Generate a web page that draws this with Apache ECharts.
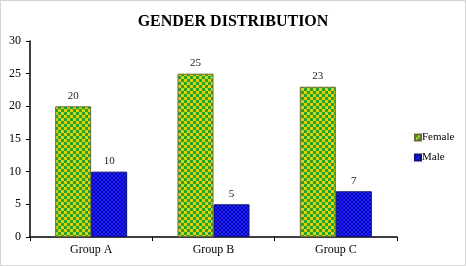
<!DOCTYPE html>
<html>
<head>
<meta charset="utf-8">
<script src="https://cdn.jsdelivr.net/npm/echarts@6/dist/echarts.min.js"></script>
<style>
html,body{margin:0;padding:0;background:#fff;}
#main{width:464px;height:264px;border:1px solid #d4d4d4;}
</style>
</head>
<body>
<div id="main"></div>
<script>
var categories = ['Group A', 'Group B', 'Group C'];
var femaleValues = [20, 25, 23];
var maleValues = [10, 5, 7];
var yTicks = [0, 5, 10, 15, 20, 25, 30];

// checkerboard fill, like the office pattern fills
function checker(c1, c2, s) {
    var cv = document.createElement('canvas');
    cv.width = s * 2;
    cv.height = s * 2;
    var ctx = cv.getContext('2d');
    ctx.fillStyle = c1;
    ctx.fillRect(0, 0, s * 2, s * 2);
    ctx.fillStyle = c2;
    ctx.fillRect(s, 0, s, s);
    ctx.fillRect(0, s, s, s);
    return {image: cv, repeat: 'repeat'};
}

var serif = '"Liberation Serif", "DejaVu Serif", serif';
var myChart = echarts.init(document.getElementById('main'));

var option = {
    animation: false,
    title: {
        text: 'GENDER DISTRIBUTION',
        left: 'center',
        top: 8,
        textStyle: {fontFamily: serif, fontWeight: 'bold', fontSize: 16, color: '#000'}
    },
    legend: {
        orient: 'vertical',
        left: 408,
        top: 126,
        itemWidth: 6,
        itemHeight: 6,
        itemGap: 9,
        icon: 'rect',
        textStyle: {fontFamily: serif, fontSize: 11, color: '#000', padding: [0, 0, 0, -4]},
        data: ['Female', 'Male']
    },
    grid: {left: 29, right: 68, top: 40, bottom: 28},
    xAxis: {
        type: 'category',
        data: categories,
        axisLine: {lineStyle: {color: '#000', width: 1.5}},
        axisTick: {show: true, length: 4, lineStyle: {color: '#000'}},
        axisLabel: {fontFamily: serif, fontSize: 12, color: '#000', margin: 7}
    },
    yAxis: {
        type: 'value',
        min: yTicks[0],
        max: yTicks[yTicks.length - 1],
        interval: 5,
        splitLine: {show: false},
        axisLine: {show: true, lineStyle: {color: '#000', width: 1.5}},
        axisTick: {show: true, length: 4, lineStyle: {color: '#000'}},
        axisLabel: {fontFamily: serif, fontSize: 12, color: '#000', margin: 9}
    },
    series: [
        {
            name: 'Female',
            type: 'bar',
            data: femaleValues,
            barWidth: 36,
            barGap: '0%',
            itemStyle: {
                color: checker('#27a22a', '#d9d20c', 3),
                borderColor: '#6a6a3a',
                borderWidth: 1
            },
            label: {show: true, position: 'top', distance: 5, fontFamily: serif, fontSize: 11, color: '#222'}
        },
        {
            name: 'Male',
            type: 'bar',
            data: maleValues,
            barWidth: 36,
            itemStyle: {
                color: checker('#2020ff', '#0808b0', 2),
                borderColor: '#10107a',
                borderWidth: 1
            },
            label: {show: true, position: 'top', distance: 5, fontFamily: serif, fontSize: 11, color: '#222'}
        }
    ]
};

myChart.setOption(option);
</script>
</body>
</html>
